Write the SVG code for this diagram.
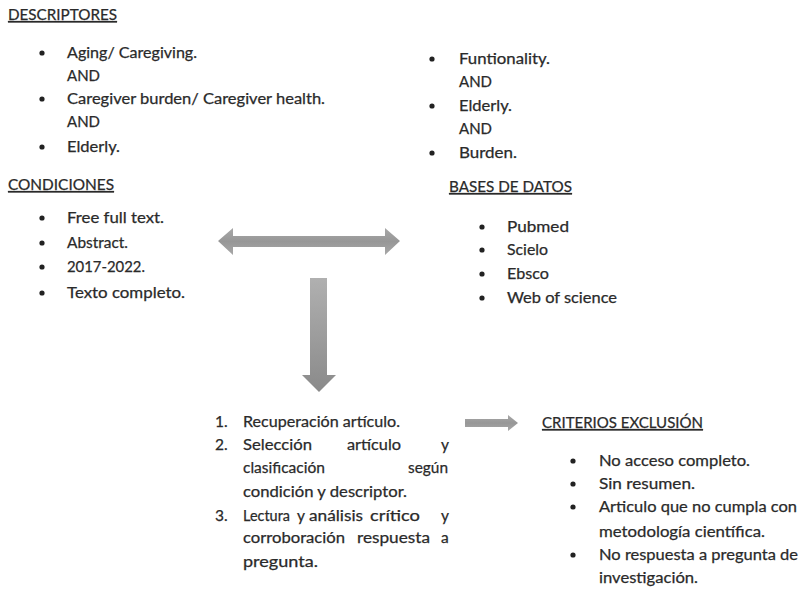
<svg xmlns="http://www.w3.org/2000/svg" width="800" height="590" viewBox="0 0 800 590">
<style>
text{font-family:Lato,"Liberation Sans",sans-serif;font-size:15.5px;fill:#2a2a2a;stroke:#2a2a2a;stroke-width:0.25}
.h{text-decoration:underline}
.b{fill:#222}
</style>
<defs>
<linearGradient id="gv" x1="0" y1="0" x2="0" y2="1"><stop offset="0" stop-color="#b0b0b0"/><stop offset="1" stop-color="#8a8a8a"/></linearGradient>
<linearGradient id="gh" x1="0" y1="0" x2="0" y2="1"><stop offset="0" stop-color="#a8a8a8"/><stop offset="0.5" stop-color="#979797"/><stop offset="1" stop-color="#a8a8a8"/></linearGradient>
</defs>
<rect width="800" height="590" fill="#fff"/>

<g id="descriptores">
<text class="h" x="8" y="20" textLength="109" lengthAdjust="spacingAndGlyphs">DESCRIPTORES</text>
<circle class="b" cx="42" cy="53" r="2.6"/>
<text x="67" y="58" textLength="130" lengthAdjust="spacingAndGlyphs">Aging/ Caregiving.</text>
<text x="67" y="81" textLength="33" lengthAdjust="spacingAndGlyphs">AND</text>
<circle class="b" cx="42" cy="99" r="2.6"/>
<text x="67" y="104" textLength="258" lengthAdjust="spacingAndGlyphs">Caregiver burden/ Caregiver health.</text>
<text x="67" y="127" textLength="33" lengthAdjust="spacingAndGlyphs">AND</text>
<circle class="b" cx="42" cy="147" r="2.6"/>
<text x="67" y="152" textLength="53" lengthAdjust="spacingAndGlyphs">Elderly.</text>
</g>

<g id="descriptores2">
<circle class="b" cx="432" cy="59" r="2.6"/>
<text x="459" y="64" textLength="91" lengthAdjust="spacingAndGlyphs">Funtionality.</text>
<text x="459" y="87" textLength="33" lengthAdjust="spacingAndGlyphs">AND</text>
<circle class="b" cx="432" cy="106" r="2.6"/>
<text x="459" y="111" textLength="53" lengthAdjust="spacingAndGlyphs">Elderly.</text>
<text x="459" y="134" textLength="33" lengthAdjust="spacingAndGlyphs">AND</text>
<circle class="b" cx="432" cy="153" r="2.6"/>
<text x="459" y="158" textLength="58" lengthAdjust="spacingAndGlyphs">Burden.</text>
</g>

<g id="condiciones">
<text class="h" x="8" y="190" textLength="106" lengthAdjust="spacingAndGlyphs">CONDICIONES</text>
<circle class="b" cx="42" cy="218" r="2.6"/>
<text x="67" y="223" textLength="97" lengthAdjust="spacingAndGlyphs">Free full text.</text>
<circle class="b" cx="42" cy="243" r="2.6"/>
<text x="67" y="248" textLength="61" lengthAdjust="spacingAndGlyphs">Abstract.</text>
<circle class="b" cx="42" cy="267" r="2.6"/>
<text x="67" y="272" textLength="78" lengthAdjust="spacingAndGlyphs">2017-2022.</text>
<circle class="b" cx="42" cy="293" r="2.6"/>
<text x="67" y="298" textLength="118" lengthAdjust="spacingAndGlyphs">Texto completo.</text>
</g>

<g id="bases">
<text class="h" x="449" y="192" textLength="123" lengthAdjust="spacingAndGlyphs">BASES DE DATOS</text>
<circle class="b" cx="482" cy="227" r="2.6"/>
<text x="507" y="232" textLength="62" lengthAdjust="spacingAndGlyphs">Pubmed</text>
<circle class="b" cx="482" cy="250" r="2.6"/>
<text x="507" y="255" textLength="41" lengthAdjust="spacingAndGlyphs">Scielo</text>
<circle class="b" cx="482" cy="274" r="2.6"/>
<text x="507" y="279" textLength="42" lengthAdjust="spacingAndGlyphs">Ebsco</text>
<circle class="b" cx="482" cy="298" r="2.6"/>
<text x="507" y="303" textLength="110" lengthAdjust="spacingAndGlyphs">Web of science</text>
</g>

<g id="pasos">
<text x="215" y="427">1.</text>
<text x="243" y="427" textLength="157" lengthAdjust="spacingAndGlyphs">Recuperación artículo.</text>
<text x="215" y="450">2.</text>
<text x="243" y="450" textLength="69" lengthAdjust="spacingAndGlyphs">Selección</text>
<text x="347" y="450" textLength="54" lengthAdjust="spacingAndGlyphs">artículo</text>
<text x="441" y="450">y</text>
<text x="243" y="473" textLength="82" lengthAdjust="spacingAndGlyphs">clasificación</text>
<text x="408" y="473" textLength="40" lengthAdjust="spacingAndGlyphs">según</text>
<text x="243" y="497" textLength="164" lengthAdjust="spacingAndGlyphs">condición y descriptor.</text>
<text x="215" y="521">3.</text>
<text x="243" y="521" textLength="47" lengthAdjust="spacingAndGlyphs">Lectura</text>
<text x="297" y="521">y</text>
<text x="309" y="521" textLength="54" lengthAdjust="spacingAndGlyphs">análisis</text>
<text x="370" y="521" textLength="50" lengthAdjust="spacingAndGlyphs">crítico</text>
<text x="441" y="521">y</text>
<text x="243" y="543" textLength="102" lengthAdjust="spacingAndGlyphs">corroboración</text>
<text x="357" y="543" textLength="73" lengthAdjust="spacingAndGlyphs">respuesta</text>
<text x="441" y="543">a</text>
<text x="243" y="567" textLength="75" lengthAdjust="spacingAndGlyphs">pregunta.</text>
</g>

<g id="criterios">
<text class="h" x="542" y="428" textLength="161" lengthAdjust="spacingAndGlyphs">CRITERIOS EXCLUSIÓN</text>
<circle class="b" cx="573" cy="461" r="2.6"/>
<text x="599" y="466" textLength="151" lengthAdjust="spacingAndGlyphs">No acceso completo.</text>
<circle class="b" cx="573" cy="484" r="2.6"/>
<text x="599" y="489" textLength="96" lengthAdjust="spacingAndGlyphs">Sin resumen.</text>
<circle class="b" cx="573" cy="507" r="2.6"/>
<text x="599" y="512" textLength="198" lengthAdjust="spacingAndGlyphs">Articulo  que no cumpla con</text>
<text x="599" y="537" textLength="166" lengthAdjust="spacingAndGlyphs">metodología científica.</text>
<circle class="b" cx="573" cy="555" r="2.6"/>
<text x="599" y="560" textLength="199" lengthAdjust="spacingAndGlyphs">No respuesta a pregunta de</text>
<text x="599" y="583" textLength="99" lengthAdjust="spacingAndGlyphs">investigación.</text>
</g>

<g id="connectors">
<polygon fill="url(#gh)" points="218,241 233,228 233,236 385,236 385,228 400,241 385,255 385,247 233,247 233,255"/>
<polygon fill="url(#gv)" points="310,278 327,278 327,375 336,375 319,392 302,375 310,375"/>
<polygon fill="url(#gh)" points="465,419 508,419 508,415 518,423 508,431 508,427 465,427"/>
</g>
</svg>
